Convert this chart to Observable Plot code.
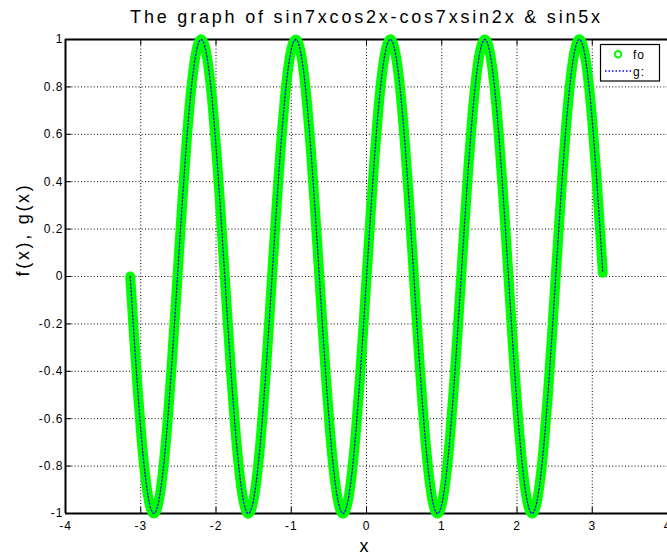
<!DOCTYPE html>
<html>
<head>
<meta charset="utf-8">
<script src="https://cdn.jsdelivr.net/npm/d3@7"></script>
<script src="https://cdn.jsdelivr.net/npm/@observablehq/plot@0.6"></script>
<style>
  html, body { margin: 0; padding: 0; background: white; }
  svg { display: block; }
</style>
</head>
<body>
<script>
// ---- data ----
const titleText = ["The graph of sin7xcos2x-cos7xsin2x & sin5x"];
const xLabel = ["x"];
const yLabel = ["f(x), g(x)"];
const legendLabels = ["fo", "g:"];

const xTicks = [-4, -3, -2, -1, 0, 1, 2, 3, 4];
const yTicks = [-1, -0.8, -0.6, -0.4, -0.2, 0, 0.2, 0.4, 0.6, 0.8, 1];

const xs = [
  -3.14,-3.09,-3.04,-2.99,-2.94,-2.89,-2.84,-2.79,-2.74,-2.69,
  -2.64,-2.59,-2.54,-2.49,-2.44,-2.39,-2.34,-2.29,-2.24,-2.19,
  -2.14,-2.09,-2.04,-1.99,-1.94,-1.89,-1.84,-1.79,-1.74,-1.69,
  -1.64,-1.59,-1.54,-1.49,-1.44,-1.39,-1.34,-1.29,-1.24,-1.19,
  -1.14,-1.09,-1.04,-0.99,-0.94,-0.89,-0.84,-0.79,-0.74,-0.69,
  -0.64,-0.59,-0.54,-0.49,-0.44,-0.39,-0.34,-0.29,-0.24,-0.19,
  -0.14,-0.09,-0.04,0.01,0.06,0.11,0.16,0.21,0.26,0.31,
  0.36,0.41,0.46,0.51,0.56,0.61,0.66,0.71,0.76,0.81,
  0.86,0.91,0.96,1.01,1.06,1.11,1.16,1.21,1.26,1.31,
  1.36,1.41,1.46,1.51,1.56,1.61,1.66,1.71,1.76,1.81,
  1.86,1.91,1.96,2.01,2.06,2.11,2.16,2.21,2.26,2.31,
  2.36,2.41,2.46,2.51,2.56,2.61,2.66,2.71,2.76,2.81,
  2.86,2.91,2.96,3.01,3.06,3.11,3.14
];
const ys = [
  0,-0.247,-0.479,-0.682,-0.841,-0.949,-0.997,-0.984,-0.909,-0.778,
  -0.598,-0.382,-0.141,0.108,0.351,0.572,0.757,0.895,0.978,0.999,
  0.959,0.859,0.706,0.508,0.279,0.033,-0.215,-0.450,-0.657,-0.823,
  -0.938,-0.995,-0.989,-0.922,-0.798,-0.625,-0.412,-0.174,0.075,0.320,
  0.544,0.735,0.880,0.970,1.000,0.968,0.876,0.729,0.537,0.311,
  0.066,-0.183,-0.420,-0.632,-0.804,-0.926,-0.991,-0.994,-0.935,-0.818,
  -0.650,-0.442,-0.207,0.042,0.288,0.516,0.712,0.864,0.961,1.000,
  0.976,0.891,0.751,0.564,0.343,0.099,-0.150,-0.390,-0.606,-0.784,
  -0.913,-0.986,-0.997,-0.946,-0.837,-0.675,-0.472,-0.239,0.009,0.256,
  0.487,0.688,0.846,0.952,0.998,0.983,0.906,0.773,0.591,0.373,
  0.132,-0.117,-0.359,-0.579,-0.763,-0.899,-0.979,-0.999,-0.956,-0.854,
  -0.699,-0.501,-0.271,-0.024,0.224,0.458,0.664,0.828,0.941,0.996,
  0.988,0.919,0.793,0.618,0.404,0.165,0.016
];

const data = xs.map((x, i) => ({x, y: ys[i]}));

// ---- style ----
const W = 667, H = 554;
const mT = 39, mR = 0, mB = 41, mL = 65;
const frameH = H - mT - mB;
const tickLen = 6;
const GREEN = "#00ff00", BLUE = "#0000ff";
const FONT = "'Liberation Sans', Arial, Helvetica, sans-serif";

const plot = Plot.plot({
  width: W, height: H,
  marginTop: mT, marginRight: mR, marginBottom: mB, marginLeft: mL,
  style: {fontFamily: FONT, fontSize: "12px", background: "white", color: "black", overflow: "visible"},
  x: {domain: [-4, 4], ticks: xTicks, tickFormat: d => String(d), tickSize: 0, tickPadding: 8, label: null},
  y: {domain: [-1, 1], ticks: yTicks, tickFormat: d => String(d), tickSize: 0, tickPadding: 2, label: null},
  marks: [
    // dotted grid
    Plot.ruleX(xTicks, {x: d => d, stroke: "black", strokeWidth: 1, strokeDasharray: "1,2.2"}),
    Plot.ruleY(yTicks, {y: d => d, stroke: "black", strokeWidth: 1, strokeDasharray: "1,2.2"}),
    // inward ticks (top & bottom, left)
    Plot.ruleX(xTicks, {x: d => d, stroke: "black", strokeWidth: 1,
      strokeDasharray: `${tickLen},${frameH - 2 * tickLen},${tickLen}`}),
    Plot.ruleY(yTicks, {y: d => d, stroke: "black", strokeWidth: 1, strokeDasharray: `${tickLen},5000`}),
    // frame: top, bottom, left
    Plot.ruleY([-1, 1], {stroke: "black", strokeWidth: 2}),
    Plot.ruleX([-4], {stroke: "black", strokeWidth: 2}),
    // f : dense green circle markers -> thick band
    Plot.line(data, {x: "x", y: "y", stroke: GREEN, strokeWidth: 10, curve: "natural",
      strokeLinecap: "round", strokeLinejoin: "round"}),
    // g : blue dotted line
    Plot.line(data, {x: "x", y: "y", stroke: BLUE, strokeWidth: 1.3, curve: "natural",
      strokeDasharray: "1.3,2.2"}),
    // title and axis labels
    Plot.text(titleText, {text: d => d, frameAnchor: "top", dy: -16.3, lineAnchor: "bottom",
      fontSize: 18, fill: "black"}),
    Plot.text(xLabel, {text: d => d, frameAnchor: "bottom", dy: 38, dx: -2, lineAnchor: "bottom",
      fontSize: 18, fill: "black"}),
    Plot.text(yLabel, {text: d => d, frameAnchor: "left", dx: -37, rotate: -90, lineAnchor: "bottom",
      fontSize: 18, fill: "black"})
  ]
});

const svg = d3.select(plot);
svg.style("letter-spacing", "1px");
svg.selectAll("text").each(function () {
  const t = this.textContent;
  if (t === titleText[0]) d3.select(this).style("letter-spacing", "2.8px");
  else if (t === yLabel[0]) d3.select(this).style("letter-spacing", "2.7px");
});

// legend box (drawn in pixel space)
const lg = svg.append("g").attr("font-family", FONT).attr("font-size", 12);
lg.append("rect").attr("x", 600.5).attr("y", 44.5).attr("width", 59).attr("height", 36.5)
  .attr("fill", "white").attr("stroke", "black").attr("stroke-width", 1.2);
lg.append("circle").attr("cx", 618).attr("cy", 54.3).attr("r", 3.2)
  .attr("fill", "none").attr("stroke", GREEN).attr("stroke-width", 2);
lg.append("text").attr("x", 639).attr("y", 58.5).text(legendLabels[0]);
lg.append("line").attr("x1", 605).attr("x2", 631).attr("y1", 71).attr("y2", 71)
  .attr("stroke", BLUE).attr("stroke-width", 1.5).attr("stroke-dasharray", "1.5,2");
lg.append("text").attr("x", 639).attr("y", 75.5).text(legendLabels[1]);

document.body.appendChild(plot);
</script>
</body>
</html>
